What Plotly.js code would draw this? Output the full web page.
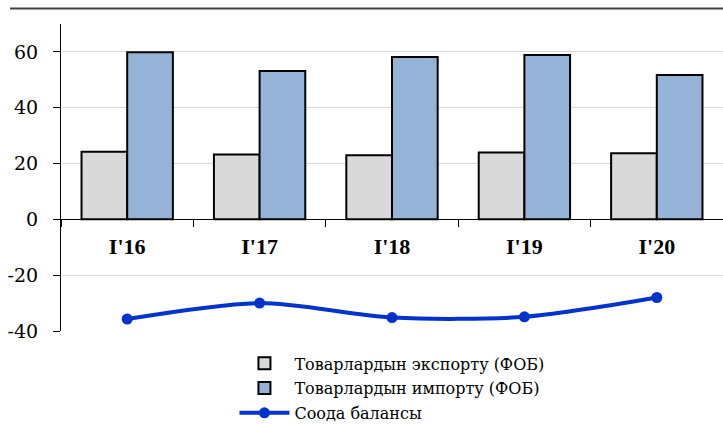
<!DOCTYPE html>
<html>
<head>
<meta charset="utf-8">
<script src="https://cdn.plot.ly/plotly-3.0.1.min.js"></script>
<style>html,body{margin:0;padding:0;background:#fff;}#chart{width:723px;height:426px;}</style>
</head>
<body>
<div id="chart"></div>
<script>
var categories = ["I'16", "I'17", "I'18", "I'19", "I'20"];
var exportValues = [24.2, 23.2, 23.0, 24.0, 23.7];
var importValues = [59.9, 53.2, 58.2, 58.9, 51.7];
var balanceValues = [-35.7, -30.0, -35.2, -34.9, -28.0];
var seriesNames = ["Товарлардын экспорту (ФОБ)", "Товарлардын импорту (ФОБ)", "Соода балансы"];
var yTicks = [-40, -20, 0, 20, 40, 60];

var serifRegular = "DejaVu Serif";
var serifBold = "Liberation Serif";

var traces = [
  {type: 'bar', name: seriesNames[0], x: categories, y: exportValues, legendgroup: 'a',
   marker: {color: '#D9D9D9', line: {color: '#000000', width: 2}}},
  {type: 'bar', name: seriesNames[1], x: categories, y: importValues, legendgroup: 'b',
   marker: {color: '#95B3D7', line: {color: '#000000', width: 2}}},
  {type: 'scatter', mode: 'lines+markers', name: seriesNames[2], x: categories, y: balanceValues, legendgroup: 'c',
   line: {color: '#0033CC', width: 4, shape: 'spline', smoothing: 0.8},
   marker: {color: '#0033CC', size: 11}}
];

var yMin = -40, yMax = 70;
var layout = {
  width: 723, height: 426,
  margin: {l: 61, r: 0, t: 24, b: 95, autoexpand: false},
  paper_bgcolor: '#ffffff', plot_bgcolor: '#ffffff',
  font: {family: serifRegular, color: '#000'},
  barmode: 'group', bargap: 0.31, bargroupgap: 0,
  showlegend: true,
  legend: {x: 0.262, y: -0.05, xanchor: 'left', yanchor: 'top',
           font: {family: serifRegular, size: 16, color: '#000'},
           tracegroupgap: 1, itemwidth: 50, bgcolor: 'rgba(0,0,0,0)'},
  xaxis: {type: 'category', anchor: 'free', position: (0 - yMin) / (yMax - yMin),
          showline: true, linecolor: '#000', linewidth: 1,
          ticks: 'outside', tickson: 'boundaries', ticklen: 7, tickcolor: '#000',
          showgrid: false, zeroline: false, fixedrange: true, automargin: false,
          tickfont: {family: serifBold, size: 22, color: '#000', weight: 'bold'},
          ticklabelstandoff: 7},
  yaxis: {range: [yMin, yMax], tickvals: yTicks, ticktext: yTicks.map(String),
          showline: true, linecolor: '#000', linewidth: 1,
          ticks: 'outside', ticklen: 7, tickcolor: '#000',
          showgrid: true, gridcolor: '#D9D9D9', gridwidth: 1,
          zeroline: true, zerolinecolor: '#000', zerolinewidth: 1,
          tickfont: {family: serifRegular, size: 19, color: '#000'},
          ticklabelstandoff: 11, fixedrange: true, automargin: false},
  shapes: [
    {type: 'line', xref: 'paper', yref: 'paper', x0: -0.077, x1: 1.0, y0: 1.0505, y1: 1.0505,
     line: {color: '#404040', width: 2}}
  ]
};

Plotly.newPlot('chart', traces, layout, {displayModeBar: false, staticPlot: true});
</script>
</body>
</html>
